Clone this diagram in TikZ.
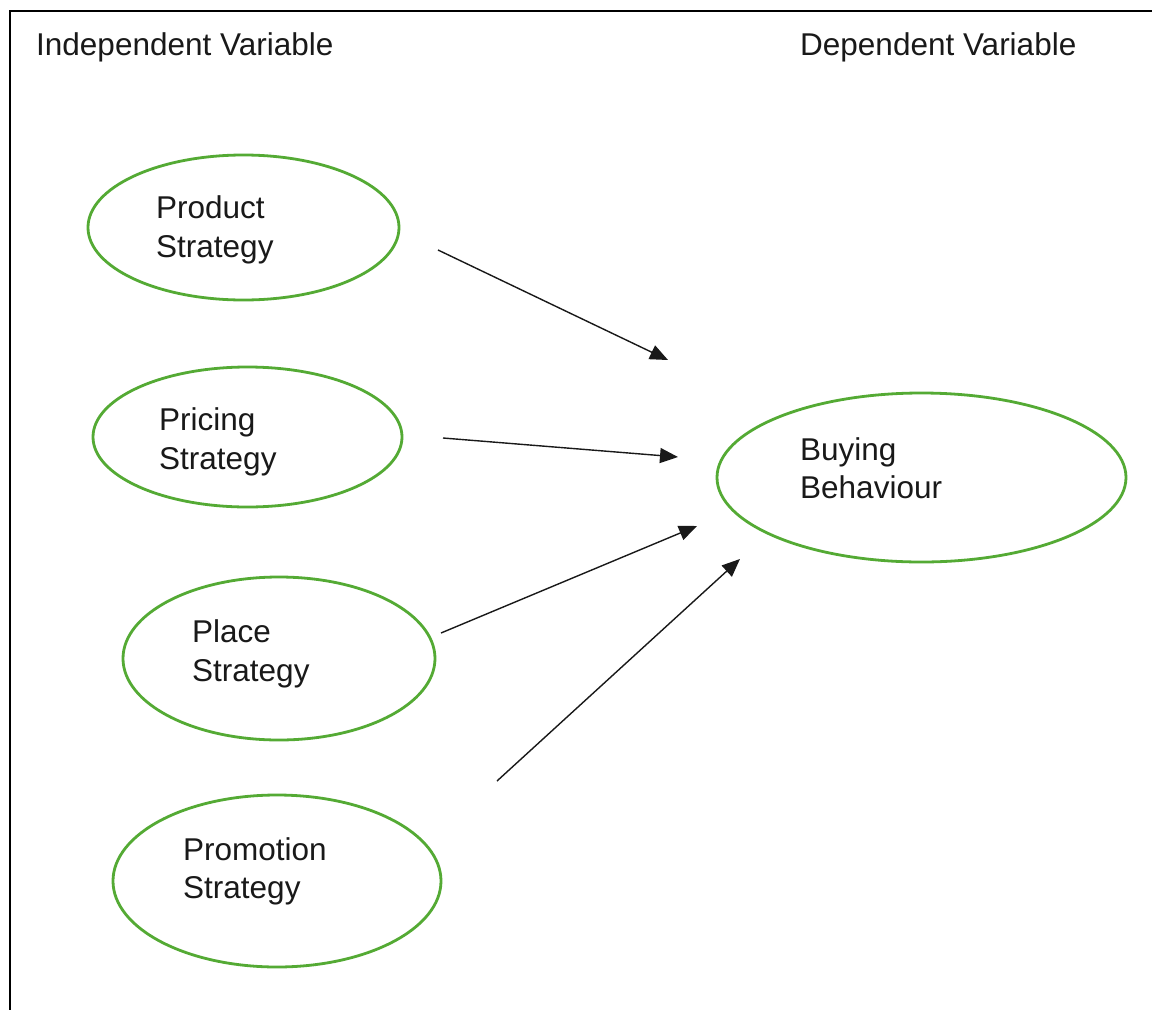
\documentclass[tikz,border=0pt]{standalone}
\usepackage{fontspec}
\setmainfont{Liberation Sans}
\usetikzlibrary{shapes.geometric,arrows.meta}
\definecolor{ovalgreen}{RGB}{84,170,52}
\definecolor{txt}{RGB}{25,25,25}
\begin{document}
\begin{tikzpicture}[x=1pt,y=-1pt,
  oval/.style={ellipse,draw=ovalgreen,line width=2.8pt,inner sep=0pt},
  lbl/.style={anchor=base west,inner sep=0pt,text=txt,font=\fontsize{31.5}{39}\selectfont},
  conn/.style={draw=black!90,line width=1.4pt,-{Triangle[length=18pt,width=15pt]}}]
\useasboundingbox (0,0) rectangle (1152,1010);
\fill[white] (0,0) rectangle (1152,1010);
% frame (left and top edges visible)
\draw[line width=2pt] (10,1010) -- (10,11) -- (1152,11);
% headers
\node[lbl] (hind) at (36,55) {Independent Variable};
\node[lbl] (hdep) at (800,55) {Dependent Variable};
% ovals
\node[oval,minimum width=311pt,minimum height=145pt] (prod) at (243.5,227.5) {};
\node[oval,minimum width=309pt,minimum height=140pt] (price) at (247.5,437) {};
\node[oval,minimum width=312pt,minimum height=163pt] (place) at (279,658.5) {};
\node[oval,minimum width=328pt,minimum height=172pt] (promo) at (277,881) {};
\node[oval,minimum width=409pt,minimum height=169pt] (buy) at (921.5,477.5) {};
% labels
\node[lbl] (prodA) at (156,218) {Product};
\node[lbl] (prodB) at (156,257) {Strategy};
\node[lbl] (priceA) at (159,430) {Pricing};
\node[lbl] (priceB) at (159,469) {Strategy};
\node[lbl] (placeA) at (192,642) {Place};
\node[lbl] (placeB) at (192,681) {Strategy};
\node[lbl] (promoA) at (183,860) {Promotion};
\node[lbl] (promoB) at (183,898) {Strategy};
\node[lbl] (buyA) at (800,460) {Buying};
\node[lbl] (buyB) at (800,498) {Behaviour};
% connector end points
\coordinate (s1) at (438,250);
\coordinate (e1) at (668,360);
\coordinate (s2) at (443,438);
\coordinate (e2) at (678,457);
\coordinate (s3) at (441,633);
\coordinate (e3) at (697,526);
\coordinate (s4) at (497,781);
\coordinate (e4) at (740,559);
\draw[conn] (s1) -- (e1);
\draw[conn] (s2) -- (e2);
\draw[conn] (s3) -- (e3);
\draw[conn] (s4) -- (e4);
\end{tikzpicture}
\end{document}
